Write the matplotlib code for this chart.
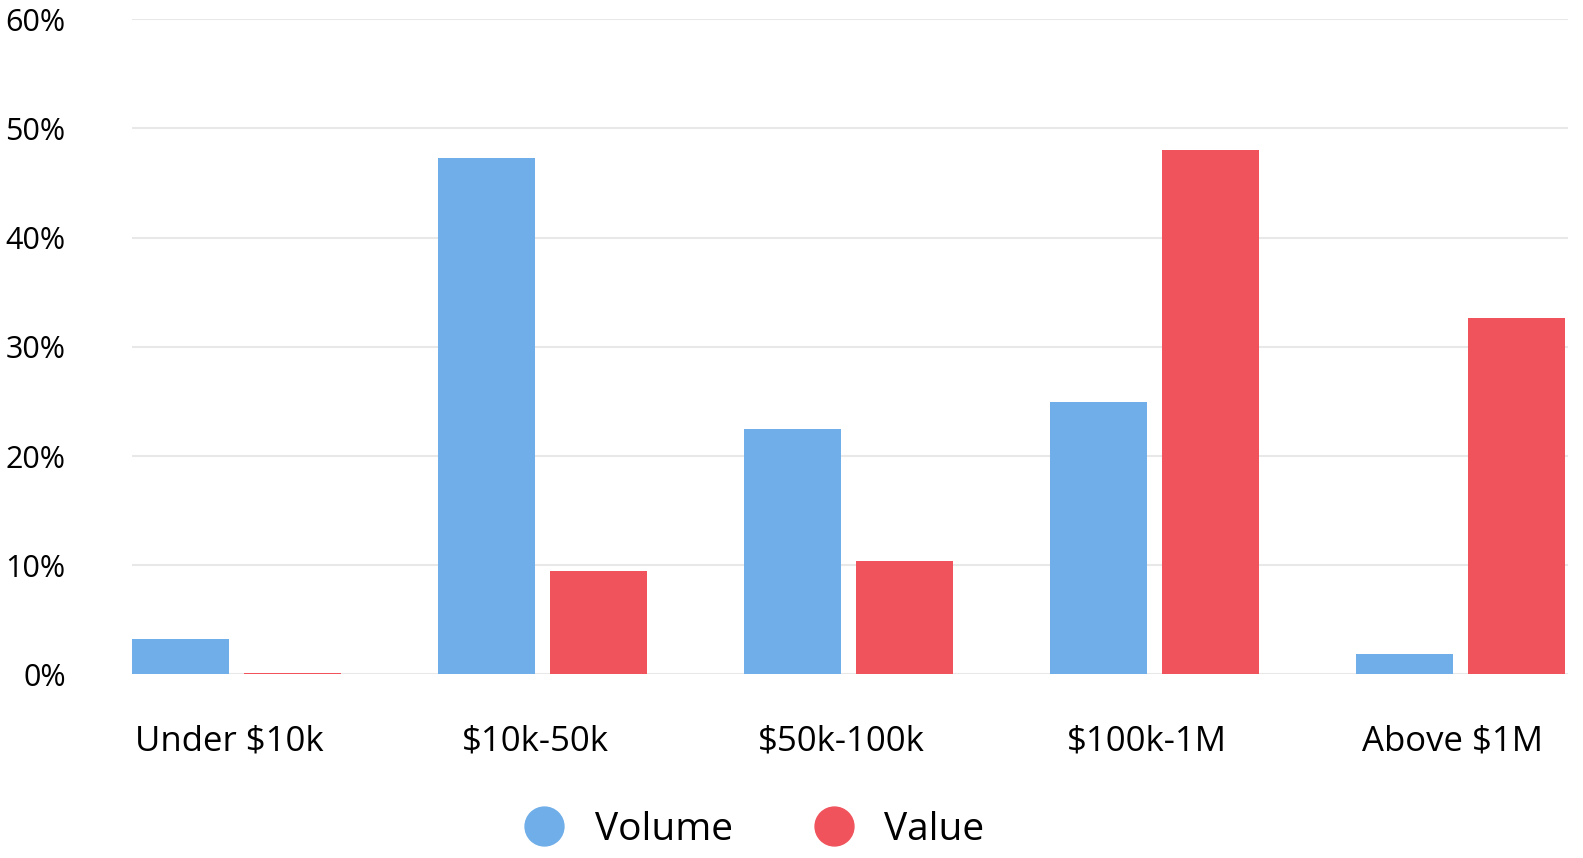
import matplotlib.pyplot as plt
from matplotlib.lines import Line2D
import numpy as np

plt.rcParams['font.family'] = ['Open Sans', 'DejaVu Sans']

# Data (percent)
categories = ["Under $10k", "$10k-50k", "$50k-100k", "$100k-1M", "Above $1M"]
volume = [3.2, 47.3, 22.5, 24.9, 1.9]
value = [0.1, 9.5, 10.4, 48.0, 32.6]
yticks = [0, 10, 20, 30, 40, 50, 60]

blue = "#6faee8"
red = "#f0535c"

W, H = 1583, 858
fig = plt.figure(figsize=(W / 100, H / 100), dpi=100)
left, right, bottom, top = 132.3, 1568, 674.4, 19.2
ax = fig.add_axes([left / W, 1 - bottom / H, (right - left) / W, (bottom - top) / H])

x = np.arange(len(categories))
w = 96 / 303
off = 55.5 / 303
ax.bar(x - off, volume, width=w, color=blue, zorder=3)
ax.bar(x + off, value, width=w, color=red, zorder=3)

ax.set_xlim(-0.3416, 4.3515)
ax.set_ylim(0, 60)
ax.set_yticks(yticks)
ax.set_yticklabels([f"{t}%" for t in yticks])
ax.set_xticks(x - 7.5 / 303)
ax.set_xticklabels(categories)
ax.tick_params(axis='y', length=0, pad=48, labelsize=22)
ax.tick_params(axis='x', length=0, pad=36, labelsize=25)
for lab in ax.get_yticklabels():
    lab.set_horizontalalignment('right')

ax.grid(axis='y', color='#e8e8e8', linewidth=1.5, zorder=0)
for s in ax.spines.values():
    s.set_visible(False)

handles = [
    Line2D([], [], marker='o', linestyle='none', markersize=28, color=blue),
    Line2D([], [], marker='o', linestyle='none', markersize=28, color=red),
]
fig.legend(handles, ["Volume", "Value"], loc='center', bbox_to_anchor=(745 / W, 1 - 830 / H),
           ncol=2, frameon=False, fontsize=28, handletextpad=0.3, columnspacing=1.6)

fig.savefig("out.png", dpi=100)
